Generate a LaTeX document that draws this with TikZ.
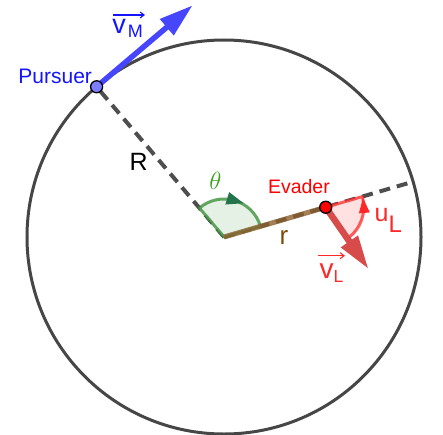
\documentclass[tikz,border=0pt]{standalone}
\usepackage{fontspec}
\setmainfont{Liberation Sans}
\usetikzlibrary{arrows.meta,calc}
\definecolor{circgray}{RGB}{70,70,70}
\definecolor{dashgray}{RGB}{78,78,78}
\definecolor{pblue}{RGB}{20,20,255}
\definecolor{vblue}{RGB}{70,70,255}
\definecolor{ptblue}{RGB}{125,125,255}
\definecolor{vred}{RGB}{215,75,75}
\definecolor{lred}{RGB}{255,40,40}
\definecolor{sred}{RGB}{255,222,222}
\definecolor{sgreen}{RGB}{226,239,226}
\definecolor{agreen}{RGB}{60,145,60}
\definecolor{dgreen}{RGB}{35,115,75}
\definecolor{tgreen}{RGB}{60,160,30}
\definecolor{rbrown}{RGB}{140,95,45}
\definecolor{tbrown}{RGB}{125,75,10}
\newcommand{\fs}[1]{\fontsize{#1}{#1}\selectfont}
\begin{document}
\begin{tikzpicture}[x=1pt,y=1pt,
  dashline/.style={draw=dashgray, line width=4pt, dash pattern=on 11pt off 7pt},
  lbl/.style={inner sep=0pt, outer sep=0pt},
  overarrow/.style={line width=1.1pt, -{Straight Barb[length=4pt,width=6pt]}},
  ptstyle/.style={circle, draw=black, line width=1.3pt, minimum size=12pt, inner sep=0pt}
]
\useasboundingbox (-224,-197) rectangle (219,237);
\coordinate (O) at (0,0);
\coordinate (P) at (130.3:197);
\coordinate (E) at (16.3:106);
\coordinate (Q) at (16.3:197);
\coordinate (vMtip) at ($(P)+(40.3:126)$);
\coordinate (vLtip) at ($(E)+(-55.3:75.5)$);

% circle
\draw[circgray, line width=3pt] (O) circle[radius=197];
% dashed lines
\draw[dashline] (O) -- (P);
\draw[dashline] (O) -- (Q);
% theta sector
\fill[sgreen, fill opacity=0.9] (O) -- ++(16.3:38) arc[start angle=16.3, end angle=130.3, radius=38] -- cycle;
\draw[agreen, line width=3pt, draw opacity=0.8, line join=round] (O) -- ++(16.3:38) arc[start angle=16.3, end angle=130.3, radius=38] -- cycle;
\begin{scope}[shift={(73.3:38)}, rotate=-16.7]
  \fill[dgreen] (9,0) -- (-8,6.5) -- (-8,-6.5) -- cycle;
\end{scope}
% u_L sector
\fill[sred, fill opacity=0.9] (E) -- ++(16.3:38) arc[start angle=16.3, end angle=-55.3, radius=38] -- cycle;
\draw[lred, line width=3pt, draw opacity=0.75, line join=round] (E) -- ++(16.3:38) arc[start angle=16.3, end angle=-55.3, radius=38] -- cycle;
% r segment
\draw[rbrown, line width=5pt, draw opacity=0.8] (O) -- (E);
% evader velocity
\draw[vred, line width=6.5pt, -{Triangle[length=34pt,width=19pt]}] (E) -- (vLtip);
% u_L arrowhead
\begin{scope}[shift={($(E)+(2:38)$)}, rotate=95]
  \fill[lred] (8,0) -- (-7,5.5) -- (-7,-5.5) -- cycle;
\end{scope}
% pursuer velocity
\draw[vblue, line width=5.5pt, -{Triangle[length=34pt,width=20pt]}] (P) -- (vMtip);
% points
\node[ptstyle, fill=ptblue] (pursuer) at (P) {};
\node[ptstyle, fill=red] (evader) at (E) {};

% labels
\node[lbl, text=pblue, anchor=base east, font=\fs{21}] (plabel) at (-132,153.7) {Pursuer};
\node[lbl, text=red, anchor=base west, font=\fs{19.5}] (elabel) at (44,43.3) {Evader};
\node[lbl, text=black, anchor=base, font=\fs{25}] (Rlabel) at (-85.3,67) {R};
\node[lbl, text=tbrown, anchor=base, font=\fs{26}] (rlabel) at (60,-7) {r};
\node[lbl, text=tgreen, font=\fs{32}] (thlabel) at (-8.5,56) {$\theta$};
% u_L
\node[lbl, text=lred, anchor=base west, font=\fs{25}] (ulabel) at (150.5,16) {u};
\node[lbl, text=lred, anchor=base west, font=\fs{24}] (uLsub) at (164.5,4.7) {L};
% v_L
\node[lbl, text=lred, anchor=base west, font=\fs{28}] (vlabel) at (95.5,-41.3) {v};
\node[lbl, text=lred, anchor=base west, font=\fs{17.5}] (vLsub) at (109.5,-45) {L};
\coordinate (vLa) at (94,-18.7);
\coordinate (vLb) at (121,-18.7);
\draw[overarrow, lred] (vLa) -- (vLb);
% v_M
\node[lbl, text=pblue, anchor=base west, font=\fs{27}] (vMlabel) at (-111.5,203.7) {v};
\node[lbl, text=pblue, anchor=base west, font=\fs{18}] (vMsub) at (-96,199.3) {M};
\coordinate (vMa) at (-111,222);
\coordinate (vMb) at (-79,222);
\draw[overarrow, pblue] (vMa) -- (vMb);
\end{tikzpicture}
\end{document}
